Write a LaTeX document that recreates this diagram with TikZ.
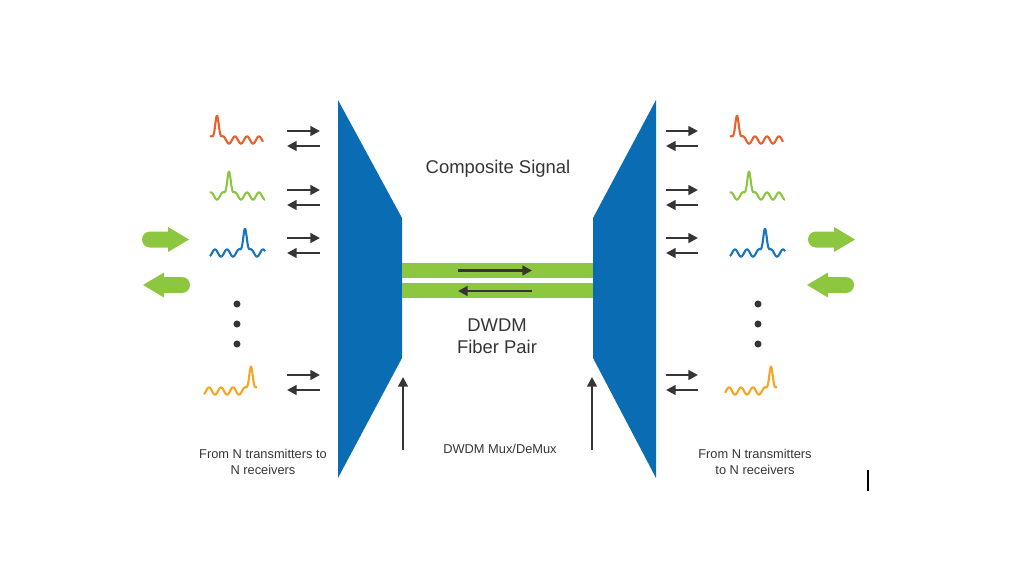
\documentclass[tikz,border=0pt]{standalone}
\usepackage{fontspec}
\setmainfont{Liberation Sans}
\usetikzlibrary{arrows.meta}
\definecolor{muxblue}{HTML}{0A6DB3}
\definecolor{fibergreen}{HTML}{8DC63F}
\definecolor{darktext}{HTML}{353535}
\definecolor{sigorange}{HTML}{E8602C}
\definecolor{siggreen}{HTML}{8CC63F}
\definecolor{sigblue}{HTML}{1B75BB}
\definecolor{sigyellow}{HTML}{F6A623}
\tikzset{
  arr/.style={draw=darktext, line width=1.4pt, -{Triangle[length=5.5pt,width=5.5pt]}},
  wave/.style={line width=1.2pt, line join=round},
  lbl/.style={text=darktext, align=center, inner sep=0pt},
  bigtxt/.style={lbl, font=\fontsize{10.5}{12.5}\selectfont},
  smalltxt/.style={lbl, font=\fontsize{7.3}{9.3}\selectfont},
}
\begin{document}
\begin{tikzpicture}[x=0.02cm, y=-0.02cm]
\useasboundingbox (0,0) rectangle (1024,575);

% mux and demux
\fill[muxblue] (338,100) -- (402,218) coordinate (mux-tr) -- (402,358) coordinate (mux-br) -- (338,478) -- cycle;
\fill[muxblue] (656,100) -- (593,218) coordinate (demux-tl) -- (593,358) coordinate (demux-bl) -- (656,478) -- cycle;

% fiber pair
\fill[fibergreen] (402,263) rectangle (593,278);
\fill[fibergreen] (402,283) rectangle (593,298);
\coordinate (fw1) at (458,270.5);
\coordinate (fw2) at (532,270.5);
\coordinate (bw1) at (532,291);
\coordinate (bw2) at (458,291);
\draw[arr] (fw1) -- (fw2);
\draw[arr] (bw1) -- (bw2);

% pointers to mux/demux
\coordinate (mp) at (403,450);
\coordinate (mpt) at (403,377);
\coordinate (dp) at (592,450);
\coordinate (dpt) at (592,377);
\draw[arr] (mp) -- (mpt);
\draw[arr] (dp) -- (dpt);

% channel arrow pairs
\foreach \y[count=\i] in {131,190,238,375} {
    \coordinate (la\i) at (287,\y);
    \coordinate (lb\i) at (320,\y);
    \coordinate (lc\i) at (320,\y+15);
    \coordinate (ld\i) at (287,\y+15);
    \coordinate (ra\i) at (666,\y);
    \coordinate (rb\i) at (698,\y);
    \coordinate (rc\i) at (698,\y+15);
    \coordinate (rd\i) at (666,\y+15);
    \draw[arr] (la\i) -- (lb\i);
    \draw[arr] (lc\i) -- (ld\i);
    \draw[arr] (ra\i) -- (rb\i);
    \draw[arr] (rc\i) -- (rd\i);
}

% signals
\foreach \c/\a/\b/\p/\yb in {sigorange/210/263/217/140, siggreen/210/265/229/196,
    sigblue/210/265/245/253, sigyellow/204/257/251/391,
    sigorange/730/783/737/140, siggreen/730/785/749/196,
    sigblue/730/785/765/253, sigyellow/725/777/771/391} {
    \draw[wave,\c,shift={(\p,\yb)}] plot[domain=\a-\p:\b-\p, samples=140, smooth]
        (\x, {3.6*cos(30*\x) - 28*exp(-min(\x*\x/6.5,15))});
}

% dots
\foreach \y in {304,324,344} {
    \fill[darktext] (237,\y) circle[radius=2pt];
    \fill[darktext] (758,\y) circle[radius=2pt];
}

% green block arrows
\foreach \tx/\ty/\s in {189/239.5/1, 143/285/-1, 855/239.5/1, 807/285/-1} {
    \fill[fibergreen, shift={(\tx,\ty)}, xscale=\s]
        (0,0) -- (-21,-12.5) -- (-21,-8) -- (-39,-8)
        arc[start angle=270, end angle=90, radius=8]
        -- (-21,8) -- (-21,12.5) -- cycle;
}

% labels
\node[bigtxt] (comp) at (498,169) {Composite Signal};
\node[bigtxt] (fiber) at (497,336) {DWDM\\Fiber Pair};
\node[smalltxt] (muxlbl) at (500,449) {DWDM Mux/DeMux};
\node[smalltxt] (srcl) at (263,462) {From N transmitters to\\N receivers};
\node[smalltxt] (srcr) at (755,462) {From N transmitters\\to N receivers};

\draw[line width=1.2pt, black] (868,470) -- (868,491);
\end{tikzpicture}
\end{document}
